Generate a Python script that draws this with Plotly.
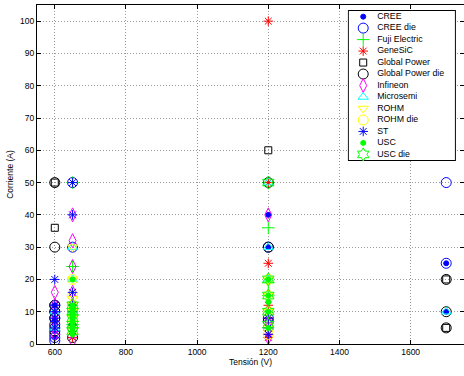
import plotly.graph_objects as go

# ---------------- data ----------------
series_names = ["CREE", "CREE die", "Fuji Electric", "GeneSiC", "Global Power",
                "Global Power die", "Infineon", "Microsemi", "ROHM", "ROHM die",
                "ST", "USC", "USC die"]

cree_v = [600, 600, 600, 600, 600, 600, 650, 650, 650, 1200, 1200, 1200, 1200, 1700, 1700]
cree_i = [2, 4, 6, 8, 10, 12, 5, 8, 10, 10, 20, 30, 40, 10, 25]

cree_die_v = [600, 600, 600, 600, 600, 600, 600, 650, 650, 1200, 1200, 1200, 1700, 1700]
cree_die_i = [1, 2, 3, 5, 8, 10, 12, 50, 30, 5, 8, 30, 50, 25]

fuji_v = [650, 650, 650, 1200, 1200, 1200, 1200]
fuji_i = [50, 24, 6, 50, 36, 19, 15]

genesic_v = [650, 1200, 1200, 1200, 1200, 1200, 1200, 1200]
genesic_i = [2, 100, 50, 25, 12, 8, 3, 2]

gp_v = [600, 600, 1200, 1700, 1700]
gp_i = [50, 36, 60, 20, 5]

gp_die_v = [600, 600, 600, 600, 600, 600, 600, 650, 650, 650, 1200, 1200, 1200, 1700, 1700, 1700]
gp_die_i = [50, 30, 12, 10, 8, 6, 4, 2, 5, 10, 50, 30, 7, 20, 10, 5]

infineon_v = [600, 600, 600, 600, 600, 600, 650, 650, 650, 650, 650, 650, 650, 650, 1200, 1200, 1200]
infineon_i = [16, 12, 9, 7, 5, 3, 40, 32, 24, 16, 12, 9, 6, 1, 40, 7, 2]

microsemi_v = [600, 600, 650, 650, 650, 1200, 1200, 1200, 1700]
microsemi_i = [10, 5, 30, 20, 10, 50, 30, 20, 10]

rohm_v = [650, 650, 650, 650, 650, 650, 1200, 1200, 1200, 1200]
rohm_i = [30, 20, 14, 12, 10, 8, 20, 15, 10, 5]

rohm_die_v = [650, 650, 650, 650, 650, 650, 650, 1200, 1200, 1200, 1200, 1200]
rohm_die_i = [20, 15, 12, 10, 8, 6, 4, 20, 15, 10, 5, 3]

st_v = [600, 600, 600, 600, 600, 600, 650, 650, 650, 650, 650, 650, 1200, 1200, 1200]
st_i = [20, 12, 10, 8, 7, 5, 50, 40, 16, 12, 10, 6, 8, 5, 3]

usc_v = [650, 650, 650, 650, 650, 650, 650, 650, 650, 650, 650, 1200, 1200, 1200, 1200, 1200]
usc_i = [20, 12, 11, 10, 9, 8, 7, 6, 5, 4, 3, 20, 15, 13, 10, 5]

usc_die_v = [650, 650, 650, 650, 650, 1200, 1200, 1200, 1200, 1200]
usc_die_i = [12, 10, 8, 6, 4, 50, 20, 15, 10, 6]

xticks = [600, 800, 1000, 1200, 1400, 1600]
yticks = [0, 10, 20, 30, 40, 50, 60, 70, 80, 90, 100]

# ---------------- styles ----------------
series_data = [(cree_v, cree_i), (cree_die_v, cree_die_i), (fuji_v, fuji_i),
               (genesic_v, genesic_i), (gp_v, gp_i), (gp_die_v, gp_die_i),
               (infineon_v, infineon_i), (microsemi_v, microsemi_i),
               (rohm_v, rohm_i), (rohm_die_v, rohm_die_i), (st_v, st_i),
               (usc_v, usc_i), (usc_die_v, usc_die_i)]

styles = [
    ("circle", "#0000ff", 5),
    ("circle-open", "#0000ff", 10),
    ("cross-thin-open", "#00ff00", 9),
    ("asterisk-open", "#ff0000", 8),
    ("square-open", "#000000", 7),
    ("circle-open", "#000000", 10),
    ("diamond-tall-open", "#ff00ff", 10),
    ("triangle-up-open", "#00ffff", 9),
    ("triangle-down-open", "#ffff00", 9),
    ("circle-open", "#ffff00", 10),
    ("asterisk-open", "#0000ff", 8),
    ("circle", "#00ff00", 5),
    ("hexagram-open", "#00ff00", 10),
]

FONT = "Liberation Sans, Arial, Helvetica, sans-serif"

fig = go.Figure()

for name, (vx, iy), (sym, col, size) in zip(series_names, series_data, styles):
    fig.add_trace(go.Scatter(
        x=vx, y=iy, mode="markers", name=name, showlegend=False,
        marker=dict(symbol=sym, size=size, color=col,
                    line=dict(color=col, width=1)),
        xaxis="x", yaxis="y"))

# ------------- legend drawn in an inset axes -------------
fig.add_trace(go.Scatter(
    x=[0, 1, 1, 0, 0], y=[-0.55, -0.55, 12.55, 12.55, -0.55],
    mode="lines", fill="toself", fillcolor="white",
    line=dict(color="black", width=1.3), showlegend=False, hoverinfo="skip",
    xaxis="x2", yaxis="y2"))

rows = list(range(len(series_names)))
for r, name, (sym, col, size) in zip(rows, series_names, styles):
    fig.add_trace(go.Scatter(
        x=[0.14], y=[r], mode="markers", showlegend=False, hoverinfo="skip",
        marker=dict(symbol=sym, size=size, color=col,
                    line=dict(color=col, width=1)),
        xaxis="x2", yaxis="y2"))
fig.add_trace(go.Scatter(
    x=[0.27] * len(series_names), y=rows, mode="text", text=series_names,
    textposition="middle right", showlegend=False, hoverinfo="skip",
    textfont=dict(family=FONT, size=8.8, color="black"),
    xaxis="x2", yaxis="y2"))

axis_common = dict(
    showgrid=True, gridcolor="rgba(0,0,0,0.4)", gridwidth=1, griddash="1px,2px",
    zeroline=False, showline=True, linecolor="black", linewidth=1.3,
    mirror="ticks", ticks="inside", ticklen=4, tickcolor="black",
    tickfont=dict(family=FONT, size=8.5, color="black"))

fig.update_layout(
    width=464, height=376,
    margin=dict(l=37, r=0, t=5, b=32),
    paper_bgcolor="white", plot_bgcolor="white",
    showlegend=False,
    font=dict(family=FONT, size=8.5, color="black"),
    xaxis=dict(range=[550, 1750], tickvals=xticks,
               title=dict(text="Tensión (V)", standoff=2,
                          font=dict(family=FONT, size=8.5)),
               **axis_common),
    yaxis=dict(range=[0, 105], tickvals=yticks,
               title=dict(text="Corriente (A)", standoff=4,
                          font=dict(family=FONT, size=8.5)),
               **axis_common),
    xaxis2=dict(domain=[0.728, 0.981], range=[-0.003, 1.003], anchor="y2",
                visible=False, fixedrange=True),
    yaxis2=dict(domain=[0.54, 0.985], range=[12.57, -0.57], anchor="x2",
                visible=False, fixedrange=True),
)

fig.write_html("out.html")
